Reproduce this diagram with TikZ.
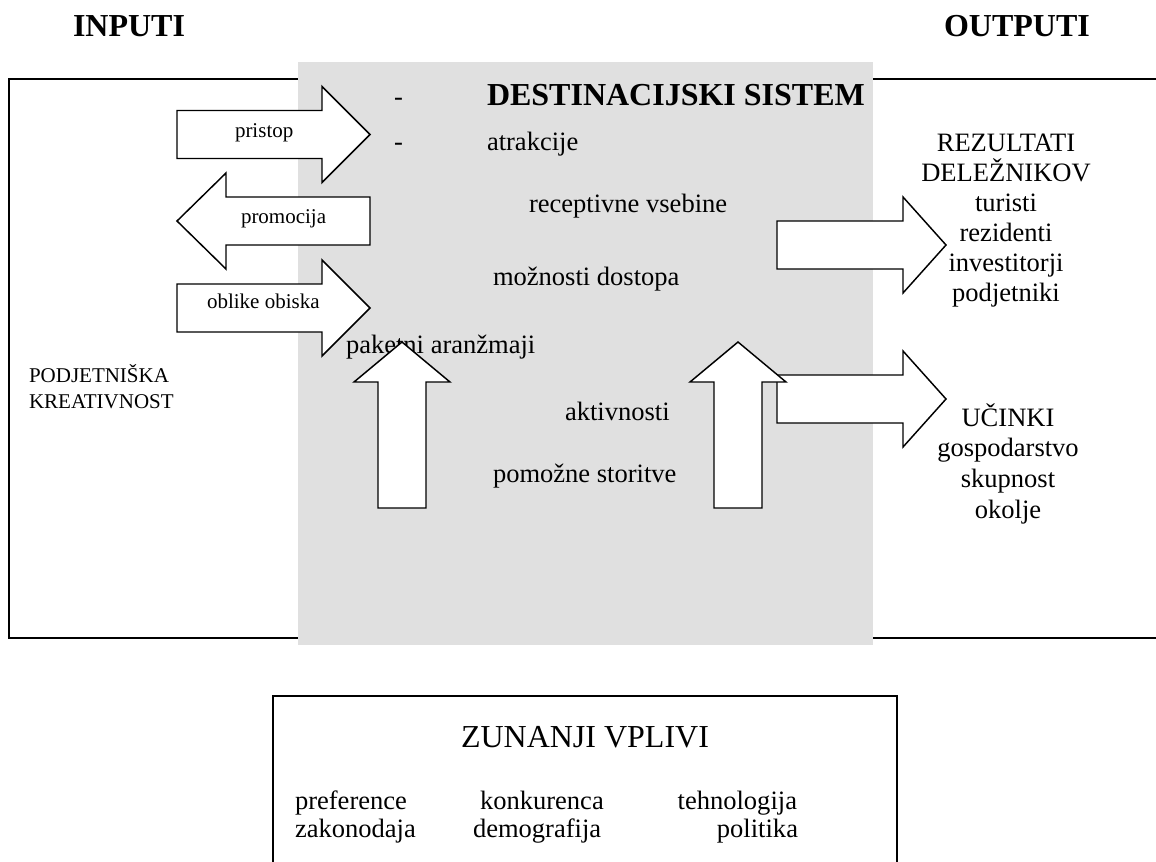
\documentclass[tikz,border=0pt]{standalone}
\usepackage{fontspec}
\setmainfont{Liberation Serif}
\usepackage{tikz}

\definecolor{sysgray}{RGB}{224,224,224}
% block arrow pointing along +x: #1 options, #2 shaft length, #3 head length
\newcommand{\blockarrow}[3]{\draw [myarrow, #1] (0,-24) -- (#2,-24) -- (#2,-48) -- ({#2+#3},0) -- (#2,48) -- (#2,24) -- (0,24) -- cycle;}

\begin{document}
\begin{tikzpicture}[x=0.75pt, y=-0.75pt, line width=1.1pt,
    every node/.style={inner sep=0, outer sep=0},
    myarrow/.style={draw=black, fill=white, line join=miter},
    heading/.style={font=\fontsize{24}{28}\selectfont\bfseries},
    txt/.style={font=\fontsize{19.9}{23}\selectfont},
    small/.style={font=\fontsize{15.75}{18}\selectfont}]
  \useasboundingbox (0,0) rectangle (1156,861);
  \node [heading, anchor=base west] (inputi) at (73,36) {INPUTI};
  \node [heading, anchor=base west] (outputi) at (944,36) {OUTPUTI};
  \draw (9,79) rectangle (1170,638);
  \fill [sysgray] (298,62) rectangle (873,645);
  % destination system
  \node [txt, anchor=base west] (dash1) at (394,105) {-};
  \node [txt, anchor=base west] (dash2) at (394,150) {-};
  \node [heading, anchor=base west] (sistem) at (487,105) {DESTINACIJSKI SISTEM};
  \node [txt, anchor=base west] (atr) at (487,150) {atrakcije};
  \node [txt, anchor=base west] (rec) at (529,212) {receptivne vsebine};
  \node [txt, anchor=base west] (dost) at (493,285) {možnosti dostopa};
  \node [txt, anchor=base west] (paket) at (346,353) {paketni aranžmaji};
  \node [txt, anchor=base west] (akt) at (565,420) {aktivnosti};
  \node [txt, anchor=base west] (pom) at (493,482) {pomožne storitve};
  % inputs
  \blockarrow{shift={(177,134.5)}}{145}{48}
  \blockarrow{shift={(370,221)}, rotate=180}{144}{49}
  \blockarrow{shift={(177,308)}}{145}{48}
  \node [small, anchor=base west] (pristop) at (235,137) {pristop};
  \node [small, anchor=base west] (promocija) at (241,223) {promocija};
  \node [small, anchor=base west] (oblike) at (207,308) {oblike obiska};
  \node [small, anchor=base west] (podj) at (29,382) {PODJETNIŠKA};
  \node [small, anchor=base west] (kreat) at (29,408) {KREATIVNOST};
  % outputs
  \blockarrow{shift={(777,245)}}{126}{43}
  \blockarrow{shift={(777,399)}}{126}{43}
  \foreach \x in {402,738} {\blockarrow{shift={(\x,508)}, rotate=90}{126}{40}}
  \foreach \w [count=\i] in {REZULTATI, DELEŽNIKOV, turisti, rezidenti, investitorji, podjetniki}
    \node [txt, anchor=base] (rez\i) at (1006,{151+30*(\i-1)}) {\w};
  \foreach \w [count=\i] in {UČINKI, gospodarstvo, skupnost, okolje}
    \node [txt, anchor=base] (uc\i) at (1008,{426+30.7*(\i-1)}) {\w};
  % external influences
  \draw (273,696) rectangle (897,900);
  \node [txt, font=\fontsize{24}{28}\selectfont, anchor=base] (zun) at (585,747) {ZUNANJI VPLIVI};
  \node [txt, anchor=base west] (pref) at (295,809) {preference};
  \node [txt, anchor=base west] (konk) at (480,809) {konkurenca};
  \node [txt, anchor=base east] (tehn) at (797,809) {tehnologija};
  \node [txt, anchor=base west] (zak) at (295,837) {zakonodaja};
  \node [txt, anchor=base west] (demo) at (473,837) {demografija};
  \node [txt, anchor=base east] (pol) at (798,837) {politika};
\end{tikzpicture}
\end{document}
